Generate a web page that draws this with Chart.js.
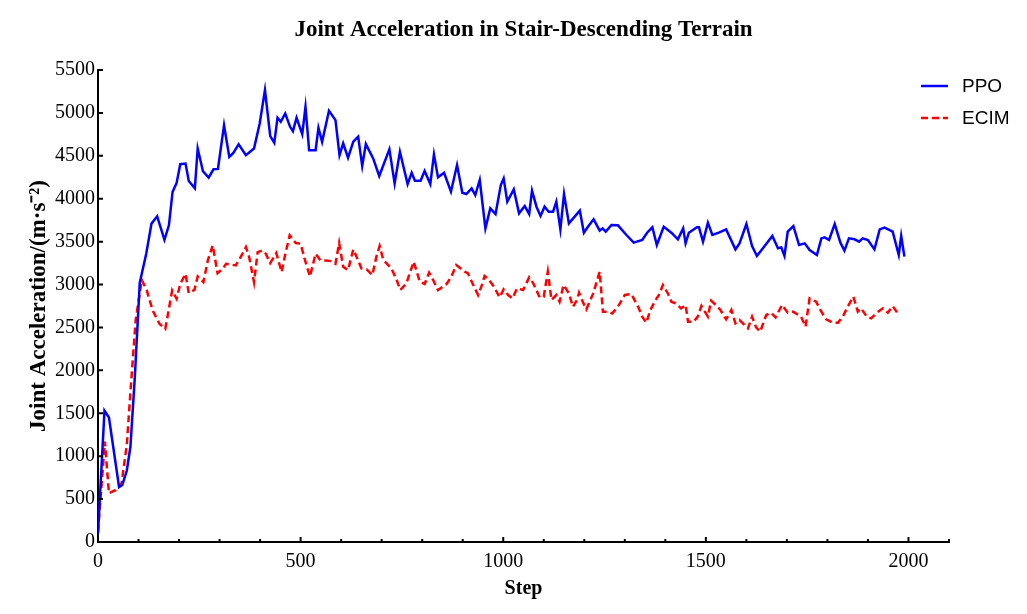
<!DOCTYPE html>
<html>
<head>
<meta charset="utf-8">
<script src="https://cdn.jsdelivr.net/npm/chart.js@4"></script>
<style>
  html, body { margin: 0; padding: 0; background: #fff; }
  #wrap { width: 1027px; height: 614px; }
</style>
</head>
<body>
<div id="wrap"><canvas id="accel-chart" width="1027" height="614"></canvas></div>
<script>
// values
var ppoSteps = [0, 16, 27, 52, 60, 71, 80, 91, 103, 119, 132, 146, 164, 175, 184, 194, 203, 216, 224, 239,
  246, 259, 273, 285, 296, 311, 324, 334, 347, 365, 385, 399, 412, 425, 435, 443, 451, 462, 474, 481,
  490, 504, 512, 521, 537, 544, 553, 570, 586, 596, 605, 617, 630, 642, 652, 661, 679, 694, 719, 732,
  745, 764, 774, 782, 796, 806, 820, 829, 839, 854, 871, 886, 899, 909, 922, 931, 942, 956, 968, 981,
  994, 1001, 1010, 1026, 1039, 1053, 1064, 1071, 1082, 1092, 1102, 1112, 1123, 1131, 1141, 1150, 1162, 1189, 1199, 1209,
  1223, 1238, 1245, 1253, 1267, 1283, 1304, 1322, 1343, 1355, 1368, 1379, 1396, 1415, 1431, 1444, 1450, 1458, 1478, 1483,
  1493, 1505, 1516, 1532, 1550, 1573, 1583, 1600, 1614, 1626, 1645, 1664, 1678, 1686, 1694, 1702, 1716, 1730, 1744, 1756,
  1774, 1785, 1793, 1804, 1818, 1832, 1842, 1853, 1867, 1878, 1887, 1900, 1916, 1929, 1941, 1961, 1976, 1982, 1990];
var ppoValues = [100, 1530, 1450, 640, 665, 830, 1110, 1930, 3020, 3360, 3710, 3795, 3522, 3690, 4079, 4184, 4402, 4410, 4207, 4122,
  4585, 4320, 4246, 4343, 4347, 4857, 4487, 4534, 4635, 4507, 4585, 4877, 5266, 4729, 4651, 4943, 4896, 4993, 4838, 4787,
  4943, 4752, 5071, 4565, 4565, 4826, 4663, 5025, 4916, 4507, 4645, 4478, 4665, 4723, 4381, 4637, 4470, 4265, 4575, 4179,
  4548, 4171, 4303, 4210, 4210, 4323, 4171, 4517, 4249, 4303, 4082, 4393, 4070, 4055, 4121, 4043, 4218, 3655, 3888, 3822,
  4160, 4237, 3966, 4109, 3830, 3915, 3822, 4094, 3907, 3799, 3907, 3849, 3849, 3966, 3643, 4055, 3713, 3861, 3604, 3674,
  3760, 3628, 3655, 3616, 3694, 3690, 3577, 3488, 3519, 3604, 3667, 3461, 3674, 3604, 3527, 3655, 3480, 3604, 3667, 3667,
  3500, 3721, 3577, 3604, 3643, 3410, 3480, 3705, 3449, 3333, 3449, 3566, 3422, 3434, 3333, 3616, 3682, 3461, 3480, 3402,
  3344, 3538, 3550, 3519, 3705, 3488, 3395, 3538, 3527, 3500, 3538, 3519, 3410, 3643, 3663, 3616, 3344, 3566, 3325];

var ecimSteps = [0, 17, 27, 44, 58, 71, 81, 93, 108, 120, 135, 152, 166, 183, 194, 203, 216, 224, 238, 246,
  260, 271, 283, 295, 308, 316, 340, 353, 365, 373, 385, 394, 406, 414, 425, 440, 453, 462, 473, 488,
  500, 511, 523, 537, 549, 562, 574, 586, 595, 605, 617, 630, 638, 650, 663, 677, 687, 695, 704, 724,
  737, 746, 761, 779, 794, 806, 817, 827, 839, 860, 872, 884, 905, 913, 924, 938, 946, 954, 965, 977,
  991, 1001, 1012, 1023, 1034, 1049, 1064, 1074, 1090, 1100, 1110, 1119, 1131, 1139, 1149, 1162, 1172, 1182, 1187, 1195,
  1205, 1222, 1238, 1246, 1259, 1269, 1283, 1300, 1316, 1333, 1343, 1353, 1363, 1376, 1384, 1394, 1407, 1415, 1425, 1439,
  1450, 1456, 1470, 1480, 1489, 1499, 1505, 1513, 1527, 1536, 1550, 1563, 1573, 1583, 1596, 1604, 1614, 1624, 1634, 1649,
  1661, 1672, 1688, 1702, 1715, 1735, 1746, 1756, 1772, 1785, 1797, 1813, 1826, 1838, 1850, 1864, 1875, 1883, 1897, 1908,
  1922, 1937, 1949, 1961, 1976];
var ecimValues = [120, 1169, 567, 606, 683, 1130, 1810, 2587, 3053, 2936, 2697, 2541, 2483, 2931, 2833, 3008, 3125, 2900, 2938, 3094,
  3028, 3281, 3456, 3133, 3184, 3242, 3223, 3328, 3437, 3320, 3028, 3378, 3398, 3359, 3250, 3367, 3145, 3351, 3573, 3484,
  3476, 3281, 3094, 3359, 3281, 3281, 3273, 3242, 3484, 3208, 3169, 3410, 3325, 3189, 3177, 3111, 3325, 3449, 3286, 3189,
  3053, 2936, 3014, 3266, 3033, 3006, 3138, 3053, 2936, 3006, 3092, 3228, 3150, 3131, 3014, 2878, 2975, 3099, 3053, 2975,
  2851, 2944, 2878, 2839, 2956, 2936, 3084, 3014, 2851, 2859, 3150, 2820, 2878, 2800, 2995, 2897, 2742, 2820, 2905, 2812,
  2711, 2897, 3150, 2684, 2684, 2664, 2742, 2878, 2890, 2742, 2626, 2556, 2703, 2820, 2878, 2995, 2890, 2800, 2781, 2723,
  2762, 2567, 2567, 2626, 2750, 2672, 2626, 2812, 2750, 2703, 2594, 2703, 2548, 2587, 2528, 2490, 2626, 2501, 2451, 2645,
  2672, 2618, 2762, 2672, 2684, 2626, 2509, 2839, 2800, 2684, 2594, 2556, 2556, 2626, 2742, 2859, 2684, 2723, 2626, 2606,
  2672, 2723, 2672, 2750, 2645];

var xTicks = [0, 500, 1000, 1500, 2000];
var yTicks = [0, 500, 1000, 1500, 2000, 2500, 3000, 3500, 4000, 4500, 5000, 5500];
var seriesNames = ["PPO", "ECIM"];
var chartTitle = 'Joint Acceleration in Stair-Descending Terrain';

function pairs(xs, ys) {
  var out = [];
  for (var i = 0; i < xs.length; i++) out.push({x: xs[i], y: ys[i]});
  return out;
}

var serif = "'Liberation Serif', 'Times New Roman', serif";

// small inward ticks like the original plot
var innerTicks = {
  id: 'innerTicks',
  afterDraw: function(chart) {
    var ctx = chart.ctx, x = chart.scales.x, y = chart.scales.y, a = chart.chartArea;
    ctx.save();
    ctx.strokeStyle = '#000';
    ctx.lineWidth = 2;
    ctx.beginPath();
    for (var v = 0; v <= 2100; v += 100) {
      var px = x.getPixelForValue(v);
      var len = (v % 500 === 0) ? 5 : 3;
      ctx.moveTo(px, a.bottom);
      ctx.lineTo(px, a.bottom - len);
    }
    y.ticks.forEach(function(t) {
      var py = y.getPixelForValue(t.value);
      ctx.moveTo(a.left, py);
      ctx.lineTo(a.left + 5, py);
    });
    ctx.stroke();
    ctx.restore();
  }
};

// title centred over the plot, legend at the top right
var decorations = {
  id: 'decorations',
  afterDraw: function(chart) {
    var ctx = chart.ctx, a = chart.chartArea;
    ctx.save();
    ctx.fillStyle = '#000';
    ctx.font = "bold 23px " + serif;
    ctx.textAlign = 'center';
    ctx.textBaseline = 'alphabetic';
    ctx.fillText(chartTitle, (a.left + a.right) / 2, 36);

    ctx.font = "19px 'Liberation Sans', Arial, sans-serif";
    ctx.textAlign = 'left';
    ctx.textBaseline = 'middle';
    chart.data.datasets.forEach(function(ds, i) {
      var yy = 86 + i * 32;
      ctx.beginPath();
      ctx.strokeStyle = ds.borderColor;
      ctx.lineWidth = 2.5;
      ctx.setLineDash(ds.borderDash || []);
      ctx.moveTo(921, yy);
      ctx.lineTo(948, yy);
      ctx.stroke();
      ctx.setLineDash([]);
      ctx.fillText(ds.label, 962, yy + 1);
    });
    ctx.restore();
  }
};

var context = document.getElementById('accel-chart').getContext('2d');
var chart = new Chart(context, {
  type: 'line',
  data: {
    datasets: [{
        data: pairs(ppoSteps, ppoValues),
        label: seriesNames[0],
        borderColor: "#0000ff",
        borderWidth: 2.5,
        pointRadius: 0,
        fill: false
      }, {
        data: pairs(ecimSteps, ecimValues),
        label: seriesNames[1],
        borderColor: "#ff0000",
        borderWidth: 2.5,
        borderDash: [7, 4],
        pointRadius: 0,
        fill: false
      }
    ]
  },
  options: {
    responsive: false,
    animation: false,
    layout: { padding: { left: 0, right: 78, top: 70, bottom: 0 } },
    plugins: {
      legend: { display: false },
      tooltip: { enabled: false },
      title: { display: false }
    },
    scales: {
      x: {
        type: 'linear',
        min: 0,
        max: 2100,
        afterFit: function(s) { s.height = 72; },
        afterBuildTicks: function(s) { s.ticks = xTicks.map(function(v) { return {value: v}; }); },
        grid: { display: false, drawTicks: false },
        border: { display: true, color: '#000', width: 2 },
        ticks: {
          color: '#000', padding: 8, maxRotation: 0,
          font: { family: serif, size: 20 },
          callback: function(v) { return String(v); }
        },
        title: {
          display: true,
          text: 'Step',
          color: '#000',
          font: { family: serif, size: 20, weight: 'bold' },
          padding: { top: 0, bottom: 13 }
        }
      },
      y: {
        min: 0,
        max: 5500,
        afterFit: function(s) { s.width = 98; },
        afterBuildTicks: function(s) { s.ticks = yTicks.map(function(v) { return {value: v}; }); },
        grid: { display: false, drawTicks: false },
        border: { display: true, color: '#000', width: 2 },
        ticks: {
          color: '#000', padding: 3,
          font: { family: serif, size: 20 },
          callback: function(v) { return String(v); }
        },
        title: {
          display: true,
          text: 'Joint Acceleration/(m·s⁻²)',
          color: '#000',
          font: { family: serif, size: 23, weight: 'bold' },
          padding: { top: 25, bottom: 0 }
        }
      }
    }
  },
  plugins: [innerTicks, decorations]
});
</script>
</body>
</html>
